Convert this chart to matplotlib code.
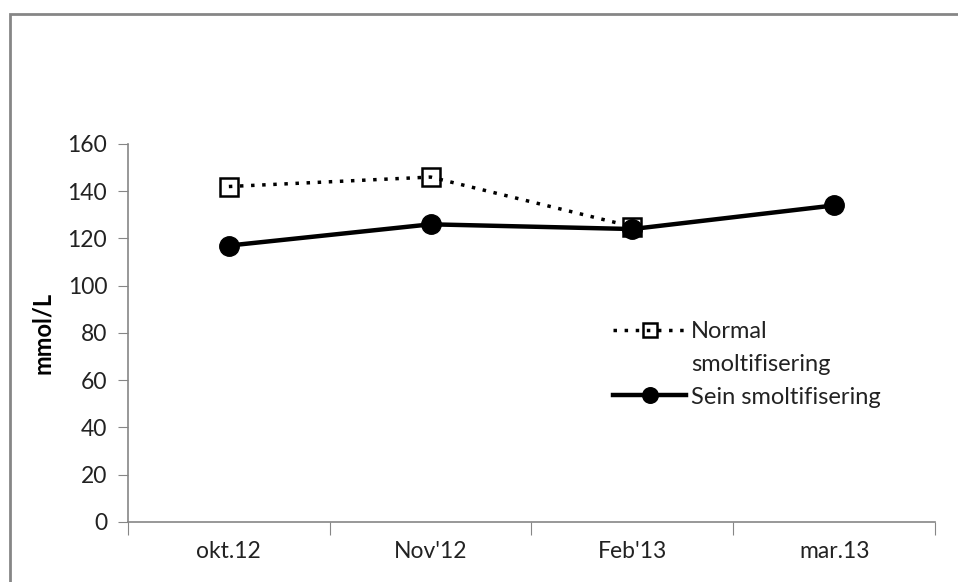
import matplotlib
matplotlib.use('Agg')
import matplotlib.pyplot as plt
from matplotlib.patches import Rectangle
from matplotlib.lines import Line2D

# data
months = ['okt.12', "Nov'12", "Feb'13", 'mar.13']
normal = [142, 146, 125]
sein = [117, 126, 124, 134]

plt.rcParams['font.family'] = ['Lato', 'DejaVu Sans']

fig = plt.figure(figsize=(9.58, 5.82), dpi=100)
ax = fig.add_axes([0.1336, 0.1031, 0.8424, 0.6495])

# outer frame (only left and top visible in the original)
fig.patches.append(Rectangle((10 / 958, -0.1), 1.2, 1 - 14 / 582 + 0.1,
                             transform=fig.transFigure, fill=False,
                             edgecolor='#868686', linewidth=2))

x_sein = list(range(len(sein)))
x_norm = list(range(len(normal)))

l1, = ax.plot(x_norm, normal, color='black', linestyle=(0, (1, 2.2)), linewidth=2.5,
              marker='s', markersize=13, markerfacecolor='none', markeredgecolor='black',
              markeredgewidth=1.8, zorder=3)
l2, = ax.plot(x_sein, sein, color='black', linewidth=3.2, marker='o', markersize=14,
              zorder=4)

ax.set_xlim(-0.5, len(months) - 0.5)
ax.set_ylim(0, 160)
ax.set_yticks(range(0, 161, 20))
ax.set_xticks([i - 0.5 for i in range(len(months) + 1)])
ax.set_xticklabels([])
ax.set_xticks(range(len(months)), minor=True)
ax.set_xticklabels(months, minor=True)
ax.tick_params(axis='x', which='major', length=9, color='#868686', direction='out')
ax.tick_params(axis='x', which='minor', length=0, pad=14, labelsize=16.5, labelcolor='#222222')
ax.tick_params(axis='y', length=7, color='#868686', labelsize=16.5, labelcolor='#222222', pad=8)

for s in ['top', 'right']:
    ax.spines[s].set_visible(False)
for s in ['left', 'bottom']:
    ax.spines[s].set_color('#868686')
    ax.spines[s].set_linewidth(1.2)

ax.set_ylabel('mmol/L', fontsize=17, fontweight='bold', labelpad=10)

# legend: label of first series wraps onto a second line, handle sits on the first line
blank = Line2D([], [], linestyle='none')
leg = ax.legend([l1, blank, l2], ['Normal', 'smoltifisering', 'Sein smoltifisering'],
                loc='upper left', bbox_to_anchor=(0.601, 0.532), frameon=False,
                fontsize=17, handlelength=3.1, handletextpad=0.2, labelspacing=0.5,
                borderaxespad=0, borderpad=0, markerscale=0.8)
for t in leg.get_texts():
    t.set_color('#222222')

fig.savefig('out.png', dpi=100)
